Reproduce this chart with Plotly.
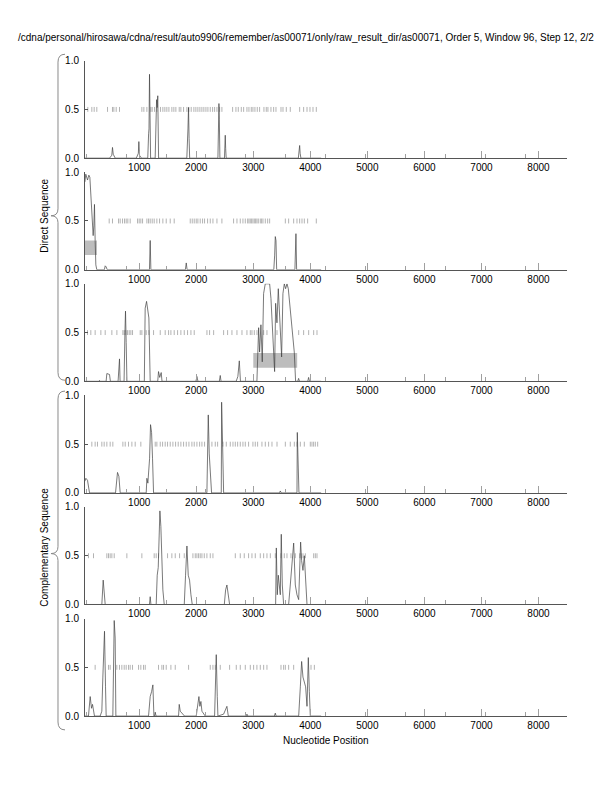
import plotly.graph_objects as go

W, H = 612, 792

title_text = ("/cdna/personal/hirosawa/cdna/result/auto9906/remember/as00071/only/"
              "raw_result_dir/as00071, Order 5, Window 96, Step 12, 2/2")
x_title = "Nucleotide Position"
group_labels = ["Direct Sequence", "Complementary Sequence"]

x_tickvals = [1000, 2000, 3000, 4000, 5000, 6000, 7000, 8000]
x_minor_ticks = [70, 770, 1470, 2170, 2870, 3570, 4270, 4970, 5670, 6370, 7070, 7770]
y_tickvals = [0.0, 0.5, 1.0]
y_ticktext = ["0.0", "0.5", "1.0"]
rug_level = 0.5

# ---- panel score curves ----
p1_x = [48, 480, 520, 532, 545, 580, 950, 985, 994, 1005, 1040, 1150, 1165, 1172, 1181, 1190, 1200,
        1280, 1295, 1305, 1316, 1326, 1340, 1835, 1855, 1865, 1875, 1885, 2380, 2392, 2398, 2405, 2415,
        2495, 2503, 2509, 2516, 2525, 3790, 3805, 3813, 3822, 3835, 4190]
p1_y = [0, 0, 0.03, 0.11, 0.04, 0, 0, 0.05, 0.17, 0.03, 0, 0, 0.25, 0.3, 0.86, 0.2, 0,
        0, 0.35, 0.6, 0.52, 0.64, 0, 0, 0.3, 0.52, 0.2, 0, 0, 0.3, 0.56, 0.4, 0,
        0, 0.15, 0.235, 0.1, 0, 0, 0.08, 0.13, 0.05, 0, 0]

p2_x = [48, 64, 94, 117, 135, 152, 170, 181, 193, 205, 216, 228, 240, 257, 390, 404, 420, 440,
        1180, 1193, 1205, 1810, 1825, 1840, 3360, 3375, 3386, 3398, 3410, 3730, 3740, 3748, 3760, 4190]
p2_y = [0.9, 0.98, 0.92, 0.97, 0.95, 0.75, 0.62, 0.5, 0.35, 0.45, 0.67, 0.3, 0.05, 0, 0, 0.04, 0.03, 0,
        0, 0.30, 0, 0, 0.07, 0, 0, 0.15, 0.34, 0.3, 0, 0, 0.28, 0.37, 0, 0]

p3_x = [48, 290, 304, 320, 420, 433, 480, 495, 630, 645, 655, 665, 735, 750, 760, 772, 785,
        1090, 1105, 1129, 1146, 1170, 1193, 1325, 1339, 1360, 1386, 1400, 1995, 2012, 2030,
        2405, 2421, 2435, 2700, 2730, 2755, 2775,
        3064, 3094, 3111, 3134, 3158, 3181, 3210, 3251, 3287, 3310, 3333, 3357, 3374, 3392, 3415,
        3439, 3462, 3485, 3497, 3520, 3544, 3567, 3591, 3614, 3637, 3661, 3696, 3719, 3742,
        3780, 3795, 3810, 3955, 3970, 3985, 4190]
p3_y = [0, 0, 0.01, 0, 0, 0.08, 0.07, 0, 0, 0.1, 0.23, 0, 0, 0.5, 0.72, 0.4, 0,
        0, 0.75, 0.82, 0.72, 0.65, 0, 0, 0.1, 0.04, 0.09, 0, 0, 0.05, 0,
        0, 0.06, 0, 0, 0.05, 0.21, 0,
        0, 0.55, 0.3, 0.58, 0.2, 0.9, 1.0, 1.0, 1.0, 0.85, 0.55, 0.2, 0.1, 0.8, 0.6,
        0.95, 0.7, 0.4, 0.25, 0.9, 1.0, 0.95, 1.0, 0.95, 0.8, 0.6, 0.45, 0.3, 0,
        0, 0.03, 0, 0, 0.04, 0, 0]

p4_x = [48, 65, 94, 117, 129, 585, 597, 620, 644, 667, 1123, 1135, 1152, 1182, 1199, 1217, 1234, 1252,
        2187, 2211, 2228, 2246, 2269, 2439, 2445, 2462, 2480, 3460, 3474, 3490, 3766, 3772, 3789, 3801, 4190]
p4_y = [0.12, 0.15, 0.13, 0.05, 0, 0, 0.1, 0.21, 0.17, 0, 0, 0.15, 0.1, 0.35, 0.7, 0.62, 0.35, 0,
        0, 0.8, 0.4, 0.25, 0, 0, 0.93, 0.5, 0, 0, 0.02, 0, 0, 0.62, 0.25, 0, 0]

p5_x = [48, 345, 369, 386, 404, 1180, 1193, 1206, 1298, 1316, 1334, 1345, 1363, 1380, 1398, 1415, 1439,
        1790, 1813, 1837, 1860, 1883, 1907, 1930, 2492, 2515, 2538, 2562, 2585,
        3392, 3404, 3421, 3439, 3456, 3474, 3491, 3509, 3532,
        3620, 3649, 3679, 3708, 3737, 3766, 3796, 3813, 3830, 3848, 3871, 3895, 3918, 3942, 4190]
p5_y = [0, 0, 0.25, 0.1, 0, 0, 0.08, 0, 0, 0.3, 0.38, 0.6, 0.96, 0.8, 0.5, 0.15, 0,
        0, 0.3, 0.6, 0.3, 0.25, 0.1, 0, 0, 0.15, 0.2, 0.12, 0,
        0, 0.58, 0.1, 0.3, 0.2, 0.1, 0.72, 0.2, 0,
        0, 0.2, 0.4, 0.63, 0.2, 0.1, 0.05, 0.35, 0.64, 0.45, 0.35, 0.5, 0.2, 0, 0]

p6_x = [48, 111, 141, 164, 182, 199, 216, 316, 345, 363, 380, 392, 410, 421, 538, 550, 562, 579, 591,
        1164, 1193, 1217, 1240, 1258, 1270, 1281, 1295, 1690, 1702, 1720, 1749, 1778, 1795,
        2000, 2029, 2047, 2064, 2082, 2100, 2129, 2158, 2322, 2340, 2351, 2369, 2380,
        2480, 2509, 2538, 2562, 2875, 2889, 2905, 3370, 3386, 3400,
        3796, 3825, 3848, 3871, 3895, 3918, 3942, 3965, 3983, 4000, 4190]
p6_y = [0, 0, 0.2, 0.08, 0.12, 0.03, 0, 0, 0.05, 0.4, 0.65, 0.87, 0.3, 0, 0, 0.6, 0.98, 0.8, 0,
        0, 0.2, 0.25, 0.32, 0, 0, 0.04, 0, 0, 0.12, 0.05, 0.03, 0.01, 0,
        0, 0.15, 0.2, 0.1, 0.15, 0.05, 0.02, 0, 0, 0.5, 0.63, 0.2, 0,
        0.02, 0.07, 0.1, 0, 0, 0.02, 0, 0, 0.03, 0,
        0, 0.3, 0.56, 0.4, 0.35, 0.3, 0.1, 0.6, 0.25, 0, 0]

# ---- rug marks (positions along y = 0.5) ----
rug1 = [99, 170, 211, 257, 445, 532, 556, 597, 655, 1047, 1082, 1135, 1205, 1228, 1269, 1310, 1374, 1415,
        1450, 1485, 1521, 1573, 1608, 1643, 1702, 1731, 1778, 1836, 1871, 1912, 1959, 1994, 2029, 2064,
        2099, 2134, 2170, 2205, 2246, 2287, 2322, 2363, 2410, 2450, 2638, 2696, 2737, 2790, 2831, 2889,
        2924, 2965, 2994, 3029, 3070, 3111, 3187, 3228, 3257, 3310, 3357, 3398, 3486, 3521, 3579, 3649,
        3813, 3883, 3942, 3994, 4047, 4105]
rug2 = [474, 532, 638, 667, 708, 743, 772, 801, 842, 971, 1000, 1029, 1059, 1135, 1164, 1193, 1228, 1263,
        1310, 1357, 1415, 1474, 1544, 1614, 1895, 1930, 1965, 2000, 2029, 2070, 2111, 2146, 2199, 2246,
        2293, 2363, 2450, 2655, 2714, 2772, 2819, 2860, 2901, 2924, 2947, 2971, 2994, 3018, 3041, 3064,
        3088, 3123, 3146, 3170, 3211, 3252, 3287, 3562, 3620, 3708, 3766, 3813, 3854, 3895, 3953, 4105]
rug3 = [94, 152, 228, 328, 404, 521, 609, 714, 737, 766, 796, 825, 854, 883, 1018, 1047, 1123, 1170, 1252,
        1369, 1456, 1515, 1556, 1614, 1673, 1731, 1790, 1848, 1907, 1965, 2188, 2234, 2305, 2480, 2550,
        2626, 2714, 2802, 2889, 2948, 2977, 3018, 3065, 3182, 3240, 3416, 3796, 3883, 3971, 4059, 4117]
rug4 = [170, 228, 269, 345, 386, 433, 491, 538, 714, 755, 813, 872, 930, 1029, 1281, 1310, 1369, 1410,
        1456, 1497, 1544, 1591, 1638, 1684, 1731, 1778, 1825, 1872, 1924, 1965, 2012, 2059, 2100, 2146,
        2275, 2334, 2375, 2468, 2527, 2597, 2644, 2685, 2726, 2772, 2819, 2860, 2918, 2994, 3035, 3076,
        3152, 3211, 3269, 3328, 3416, 3562, 3649, 3720, 3766, 3825, 3895, 4000, 4029, 4058, 4088, 4129]
rug5 = [111, 199, 433, 462, 491, 521, 562, 784, 1047, 1263, 1298, 1339, 1497, 1573, 1632, 1708, 1790,
        1942, 1983, 2012, 2041, 2070, 2100, 2141, 2187, 2246, 2293, 2685, 2772, 2842, 2918, 2977, 3035,
        3123, 3182, 3240, 3299, 3386, 3486, 3544, 3591, 3661, 3737, 3813, 3837, 3872, 3913, 4059, 4088, 4117]
rug6 = [228, 462, 491, 608, 655, 696, 737, 772, 813, 842, 883, 989, 1029, 1076, 1106, 1339, 1398, 1427,
        1474, 1556, 1632, 1866, 2246, 2293, 2334, 2421, 2585, 2702, 2772, 2860, 2948, 3006, 3064, 3123,
        3182, 3240, 3486, 3532, 3562, 3620, 3708, 4012, 4071]

# ---- highlighted regions: (panel, x0, x1, y0, y1) ----
highlight_panel = [2, 3]
highlight_x0 = [0, 3000]
highlight_x1 = [260, 3770]
highlight_y0 = [0.15, 0.14]
highlight_y1 = [0.30, 0.29]

curves_x = [p1_x, p2_x, p3_x, p4_x, p5_x, p6_x]
curves_y = [p1_y, p2_y, p3_y, p4_y, p5_y, p6_y]
rugs = [rug1, rug2, rug3, rug4, rug5, rug6]

FONT = "Liberation Sans, Arial, sans-serif"
AX = "#555555"
TICKC = "#a0a0a0"

# geometry in pixels
x_left_px, x_right_px = 85, 567
panel_top0, panel_pitch, panel_h = 55.5, 113.3, 99

fig = go.Figure()
layout = dict(
    width=W, height=H,
    margin=dict(l=0, r=0, t=0, b=0),
    paper_bgcolor="white", plot_bgcolor="white",
    showlegend=False,
    font=dict(family=FONT, size=10, color="black"),
)

for i in range(6):
    n = "" if i == 0 else str(i + 1)
    top = panel_top0 + panel_pitch * i
    bot = top + panel_h
    fig.add_trace(go.Scatter(
        x=rugs[i], y=[rug_level] * len(rugs[i]), mode="markers",
        marker=dict(symbol="line-ns", size=3.5, line=dict(width=0.8, color="#a0a0a0")),
        xaxis="x" + n, yaxis="y" + n, hoverinfo="skip"))
    fig.add_trace(go.Scatter(
        x=curves_x[i], y=curves_y[i], mode="lines",
        line=dict(color="#404040", width=0.7),
        xaxis="x" + n, yaxis="y" + n))
    layout["xaxis" + n] = dict(
        domain=[x_left_px / W, x_right_px / W], range=[50, 8500], anchor="y" + n,
        showline=True, linecolor=AX, linewidth=1, showgrid=False, zeroline=False,
        tickmode="array", tickvals=x_tickvals, ticks="inside", ticklen=7, tickcolor=TICKC,
        tickwidth=1, tickfont=dict(family=FONT, size=10),
        minor=dict(tickmode="array", tickvals=x_minor_ticks, ticks="inside", ticklen=4,
                   tickcolor=TICKC, tickwidth=1, showgrid=False),
    )
    layout["yaxis" + n] = dict(
        domain=[1 - bot / H, 1 - top / H], range=[0, 1.0], anchor="x" + n,
        showline=True, linecolor=AX, linewidth=1, showgrid=False, zeroline=False,
        tickmode="array", tickvals=y_tickvals, ticktext=y_ticktext,
        ticks="inside", ticklen=3, tickcolor=AX, tickfont=dict(family=FONT, size=10),
        ticklabelstandoff=3,
    )

shapes = []
for p, x0, x1, y0, y1 in zip(highlight_panel, highlight_x0, highlight_x1, highlight_y0, highlight_y1):
    n = "" if p == 1 else str(p)
    shapes.append(dict(type="rect", xref="x" + n, yref="y" + n, x0=x0, x1=x1, y0=y0, y1=y1,
                       fillcolor="#bdbdbd", line=dict(width=0), layer="below"))


def P(xp, yp):
    return f"{xp / W:.5f},{1 - yp / H:.5f}"


def brace(top, tip, bot, xl=58, xc=65, xt=51):
    return ("M " + P(xc, top) + " Q " + P(xl, top) + " " + P(xl, top + 8) +
            " L " + P(xl, tip - 7) + " Q " + P(xl, tip) + " " + P(xt, tip) +
            " Q " + P(xl, tip) + " " + P(xl, tip + 7) +
            " L " + P(xl, bot - 8) + " Q " + P(xl, bot) + " " + P(xc, bot))


for (t, m, b) in [(49, 213, 380), (391, 556, 735)]:
    shapes.append(dict(type="path", xref="paper", yref="paper", path=brace(t, m, b),
                       line=dict(color="#8a8a8a", width=1)))
layout["shapes"] = shapes

layout["annotations"] = [
    dict(text=title_text, xref="paper", yref="paper", x=596 / W, y=1 - 32 / H,
         xanchor="right", yanchor="middle", showarrow=False, font=dict(family=FONT, size=10)),
    dict(text=x_title, xref="paper", yref="paper", x=326 / W, y=1 - 746 / H,
         xanchor="center", yanchor="middle", showarrow=False, font=dict(family=FONT, size=10)),
    dict(text=group_labels[0], xref="paper", yref="paper", x=45 / W, y=1 - 213 / H, textangle=-90,
         xanchor="center", yanchor="middle", showarrow=False, font=dict(family=FONT, size=10)),
    dict(text=group_labels[1], xref="paper", yref="paper", x=45 / W, y=1 - 550 / H, textangle=-90,
         xanchor="center", yanchor="middle", showarrow=False, font=dict(family=FONT, size=10)),
]

fig.update_layout(**layout)
post = ("document.body.style.margin='0';"
        "document.documentElement.style.overflow='hidden';"
        "document.body.style.overflow='hidden';"
        "var gd=document.getElementById('{plot_id}');"
        "gd.style.position='absolute';gd.style.left='0px';gd.style.top='0px';")
fig.write_html("out.html", config={"displayModeBar": False}, post_script=post)
